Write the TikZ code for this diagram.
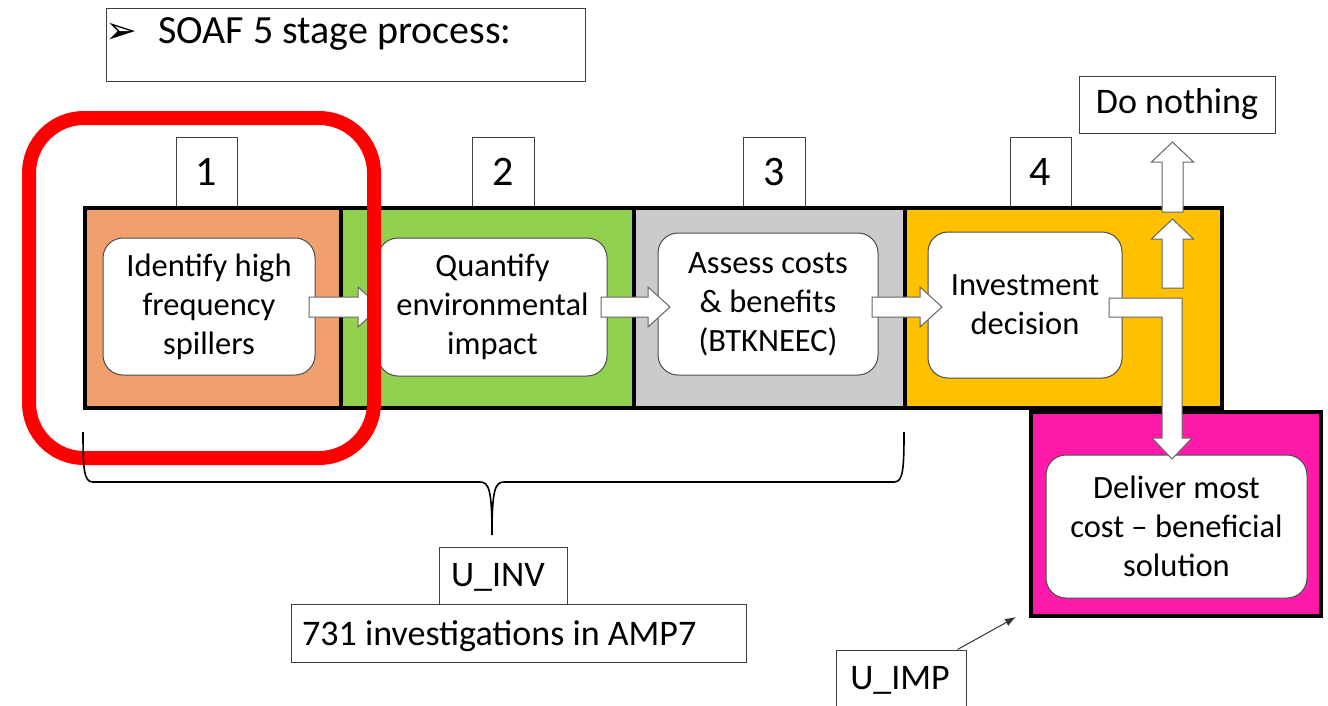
\documentclass[tikz,border=0pt]{standalone}
\usepackage{fontspec}
\setmainfont{Carlito}
\newfontfamily\symfont{DejaVu Sans}
\usetikzlibrary{calc,arrows.meta}
\definecolor{stOrange}{HTML}{F0A06C}
\definecolor{stGreen}{HTML}{92D050}
\definecolor{stGrey}{HTML}{CBCBCB}
\definecolor{stYellow}{HTML}{FFC000}
\definecolor{stMagenta}{HTML}{FF1AAA}
\newcommand\hblock[2]{%
  \draw[blockarrow] ($(#1)+(0,-10)$) -- ($(#2)+(-22,-10)$) -- ($(#2)+(-22,-20)$) -- (#2)
    -- ($(#2)+(-22,20)$) -- ($(#2)+(-22,10)$) -- ($(#1)+(0,10)$) -- cycle;}
\newcommand\vblock[2]{%
  \draw[blockarrow] ($(#1)+(-10.5,0)$) -- ($(#2)+(-10.5,20)$) -- ($(#2)+(-21,20)$) -- (#2)
    -- ($(#2)+(21,20)$) -- ($(#2)+(10.5,20)$) -- ($(#1)+(10.5,0)$) -- cycle;}
\begin{document}
\begin{tikzpicture}[x=1pt,y=-1pt,
  thinbox/.style={draw=black!75, line width=1pt, fill=white, inner sep=0pt},
  stagebox/.style={draw=black, line width=4pt, inner sep=0pt},
  innerbox/.style={draw=black!70, line width=1pt, fill=white, rounded corners=20pt,
    align=center, inner sep=0pt, font=\fontsize{32.5}{39}\selectfont},
  numtext/.style={font=\fontsize{42}{42}\selectfont, inner sep=0pt},
  labtext/.style={font=\fontsize{36}{36}\selectfont, inner sep=0pt},
  blockarrow/.style={draw=black!60, line width=1pt, fill=white, line join=miter}]
\clip (0,0) rectangle (1328,705);
\fill[white] (0,0) rectangle (1328,705);
% title
\node[thinbox, minimum width=479, minimum height=73] (title) at (345.5,44.5) {};
\node[anchor=base west, inner sep=0pt, font=\fontsize{38}{38}\selectfont\symfont] (tarrow) at (105,43) {➢};
\node[anchor=base west, inner sep=0pt, font=\fontsize{40}{40}\selectfont] (ttext) at (158,43) {SOAF 5 stage process:};
% number boxes
\node[thinbox, minimum width=61, minimum height=70] (n1) at (206.5,172) {};
\node[thinbox, minimum width=62, minimum height=70] (n2) at (503,172) {};
\node[thinbox, minimum width=62, minimum height=70] (n3) at (774.5,172) {};
\node[thinbox, minimum width=61, minimum height=70] (n4) at (1040.5,172) {};
\node[numtext] at (206.5,172) {1};
\node[numtext] at (503,172) {2};
\node[numtext] at (774.5,172) {3};
\node[numtext] at (1040.5,172) {4};
% stage boxes
\node[stagebox, fill=stOrange, minimum width=256, minimum height=200] (s1) at (213,308) {};
\node[stagebox, fill=stGreen, minimum width=293, minimum height=200] (s2) at (487.5,308) {};
\node[stagebox, fill=stGrey, minimum width=271, minimum height=200] (s3) at (769.5,308) {};
\node[stagebox, fill=stYellow, minimum width=317, minimum height=200] (s4) at (1063.5,308) {};
\node[stagebox, fill=stMagenta, minimum width=290, minimum height=204] (s5) at (1176,514) {};
% inner boxes
\node[innerbox, minimum width=212, minimum height=137] (i1) at (209,306.5) {Identify high\\frequency\\spillers};
\node[innerbox, minimum width=229, minimum height=138] (i2) at (492.5,307) {Quantify\\environmental\\impact};
\node[innerbox, minimum width=220, minimum height=142] (i3) at (768,304) {Assess costs\\\&{} benefits\\(BTKNEEC)};
\node[innerbox, minimum width=194, minimum height=146] (i4) at (1025,305) {Investment\\decision};
\node[innerbox, minimum width=261, minimum height=143] (i5) at (1176.5,526.5) {Deliver most\\cost -- beneficial\\solution};
% block arrows
\coordinate (a1s) at (309,307); \coordinate (a1e) at (380,307);
\coordinate (a2s) at (601,307); \coordinate (a2e) at (670,307);
\coordinate (a3s) at (872,307); \coordinate (a3e) at (942,307);
\hblock{a1s}{a1e}
\hblock{a2s}{a2e}
\hblock{a3s}{a3e}
\coordinate (u1s) at (1172.5,288); \coordinate (u1e) at (1172.5,219);
\coordinate (u2s) at (1172.5,212); \coordinate (u2e) at (1172.5,142);
\vblock{u1s}{u1e}
\vblock{u2s}{u2e}
\draw[blockarrow] (1109,298) -- (1182,298) -- (1182,438) -- (1192,438) -- (1172,459)
  -- (1152,438) -- (1162,438) -- (1162,317) -- (1109,317) -- cycle;
% do nothing
\node[thinbox, minimum width=196, minimum height=57, labtext] (dn) at (1177,104.5) {Do nothing};
% red highlight
\draw[red, line width=14pt, rounded corners=55pt] (29,118) rectangle (374,458);
% brace
\coordinate (bl) at (83,432); \coordinate (br) at (904,432); \coordinate (bt) at (492,535);
\draw[black, line width=1.6pt] (bl) .. controls (83,470) and (84,482) .. (93,482) -- (480,482)
  .. controls (489,482) and (492,490) .. (bt) .. controls (492,490) and (495,482) .. (504,482)
  -- (894,482) .. controls (903,482) and (904,470) .. (br);
% labels
\node[thinbox, minimum width=128, minimum height=57] (uinv) at (503,575.5) {};
\node[labtext] at (498,577) {U\_INV};
\node[thinbox, minimum width=455, minimum height=58] (inv) at (518.5,633) {};
\node[anchor=base west, labtext] at (302,645) {731 investigations in AMP7};
\node[thinbox, minimum width=130, minimum height=64] (uimp) at (901,682) {};
\node[labtext] at (900,680) {U\_IMP};
\coordinate (uimpend) at (1016,617);
\draw[black!80, line width=1pt, -{Latex[length=11pt,width=8pt]}] ($(uimp.north east)+(-9,0)$) -- (uimpend);
\end{tikzpicture}
\end{document}
